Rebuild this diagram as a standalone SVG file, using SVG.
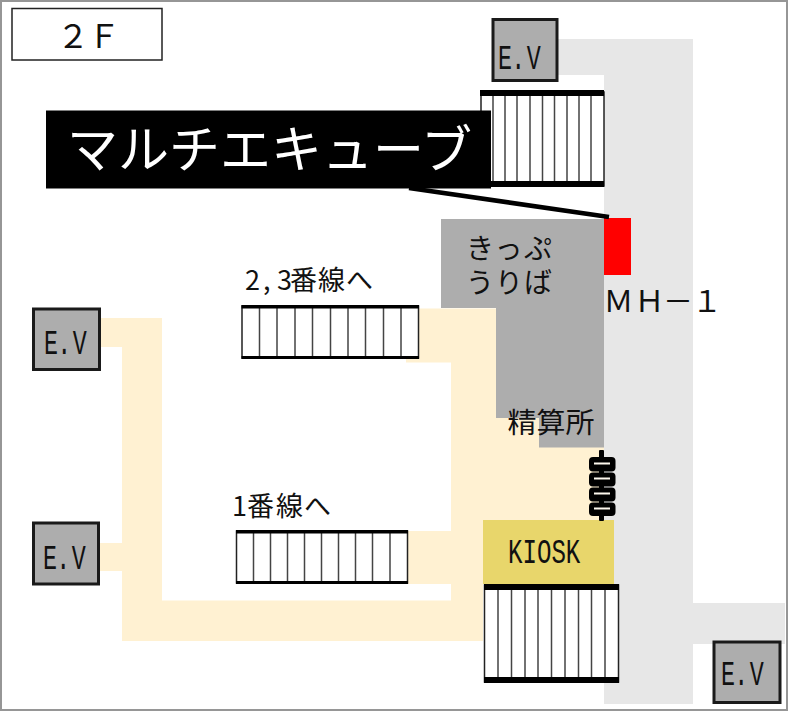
<svg xmlns="http://www.w3.org/2000/svg" width="789" height="712" viewBox="0 0 789 712">
<style>
.t{font-family:"Noto Sans CJK JP","Noto Sans",sans-serif;fill:#111;font-weight:400}
.ev{fill:#adadad;stroke:#1a1a1a;stroke-width:3}
.evt{font-family:"Liberation Mono",monospace;font-size:35px;fill:#111}
.bar{fill:#000}
.st{fill:#fff;stroke:#222;stroke-width:1.5}
.tr{stroke:#444;stroke-width:1.5;fill:none}
.esc{fill:#000}
.esw{fill:#fdf8ee}
</style>
<rect x="0" y="0" width="789" height="712" fill="#fff"/>
<rect x="1" y="1" width="786" height="709" fill="none" stroke="#969696" stroke-width="2"/>
<g id="floor-label"><rect x="12" y="8.500" width="150" height="51.500" fill="#fff" stroke="#222" stroke-width="1.500"/><text class="t" x="57 88" y="48" font-size="32">２Ｆ</text></g>
<g id="concourse-gray"><path d="M557 39H693V603H785V644H693V704H604V75H557Z" fill="#e7e7e7"/></g>
<g id="concourse-cream"><path d="M406 308.500H539V447H604V520H483V641H122V571H100V543H122V347H100V318H162V600.500H451V584H408V531H451V362.500H406Z" fill="#fff1d2"/></g>
<g id="ticket-office"><path d="M441 219H604V447.500H539V418H496V308H441Z" fill="#adadad"/><text class="t" x="509" y="259" font-size="28" text-anchor="middle" textLength="86" lengthAdjust="spacing">きっぷ</text><text class="t" x="509" y="293" font-size="28" text-anchor="middle" textLength="86" lengthAdjust="spacing">うりば</text><text class="t" x="551" y="433" font-size="28" text-anchor="middle" textLength="87" lengthAdjust="spacingAndGlyphs">精算所</text></g>
<g id="manhole"><rect x="604" y="218" width="27" height="57" fill="#f00"/><text class="t" x="603.500 634.500 663 692" y="312" font-size="30">ＭＨ－１</text></g>
<g id="stairs-top"><rect class="st" x="481" y="92" width="123" height="94"/><path class="tr" d="M493 95V187M505 95V187M517 95V187M530 95V187M542.500 95V187M554.500 95V187M567 95V187M579 95V187M591 95V187"/><rect class="bar" x="480" y="90" width="124" height="6"/><rect class="bar" x="480" y="181" width="124" height="6"/></g>
<g id="stairs-23"><rect class="st" x="242" y="306" width="176.500" height="52"/><path class="tr" d="M259.500 306V358M277 306V358M295 306V358M312.500 306V358M330.500 306V358M348 306V358M365.500 306V358M383.500 306V358M401 306V358"/><rect class="bar" x="241.500" y="305" width="177.500" height="3.500"/><rect class="bar" x="241.500" y="356" width="177.500" height="3"/><text class="t" x="245 263 277 290 318 346" y="290" font-size="27">2,3番線へ</text></g>
<g id="stairs-1"><rect class="st" x="236.500" y="531" width="171" height="52"/><path class="tr" d="M253.500 531V583M270.500 531V583M287.500 531V583M304.500 531V583M321.500 531V583M338.500 531V583M355.500 531V583M372.500 531V583M390 531V583"/><rect class="bar" x="236" y="530" width="172" height="3.500"/><rect class="bar" x="236" y="581" width="172" height="3"/><text class="t" x="232 247 276 304" y="516" font-size="27">1番線へ</text></g>
<g id="kiosk"><rect x="483" y="520" width="131" height="64" fill="#e8d66b"/><text class="evt" transform="translate(508 563) scale(.67 1)" style="font-size:36px">KIOSK</text></g>
<g id="stairs-bottom"><rect class="st" x="484.500" y="585" width="134" height="97"/><path class="tr" d="M498 588V683M511.500 588V683M525 588V683M538 588V683M551.500 588V683M565 588V683M578.500 588V683M591.500 588V683M605 588V683"/><rect class="bar" x="484" y="584" width="135" height="6"/><rect class="bar" x="484" y="677" width="135" height="6"/></g>
<g id="ev-top"><rect class="ev" x="493" y="19.500" width="64" height="61"/><text class="evt" x="0 20 43" transform="translate(498 68.500) scale(.667 1)">E.V</text></g>
<g id="ev-left-1"><rect class="ev" x="33.500" y="309" width="66" height="60.500"/><text class="evt" x="0 20 43" transform="translate(44 353.500) scale(.667 1)">E.V</text></g>
<g id="ev-left-2"><rect class="ev" x="33.500" y="523" width="65" height="61"/><text class="evt" x="0 20 43" transform="translate(43 568.500) scale(.667 1)">E.V</text></g>
<g id="ev-right"><rect class="ev" x="714" y="642" width="66" height="60.500"/><text class="evt" x="0 20 43" transform="translate(721 685) scale(.667 1)">E.V</text></g>
<g id="escalator"><rect class="esc" x="599" y="450" width="5" height="71" rx="1"/><rect class="esc" x="589" y="457" width="26.500" height="14.500" rx="4"/><rect class="esc" x="589" y="472.500" width="26.500" height="14" rx="4"/><rect class="esc" x="589" y="487.500" width="26.500" height="14" rx="4"/><rect class="esc" x="589" y="502.500" width="26.500" height="13.500" rx="4"/><rect class="esw" x="594" y="462.500" width="16" height="2"/><rect class="esw" x="594" y="477.500" width="16" height="2"/><rect class="esw" x="594" y="492.500" width="16" height="2"/><rect class="esw" x="594" y="507.500" width="16" height="2"/></g>
<g id="callout"><rect x="46" y="110.500" width="445" height="78" fill="#000"/><text x="67" y="168" font-family="'Noto Sans CJK JP',sans-serif" font-weight="400" font-size="51" fill="#fff">マルチエキューブ</text></g>
<g id="connectors"><path d="M409 188L609 217" stroke="#000" stroke-width="4.500" fill="none"/></g>
</svg>
